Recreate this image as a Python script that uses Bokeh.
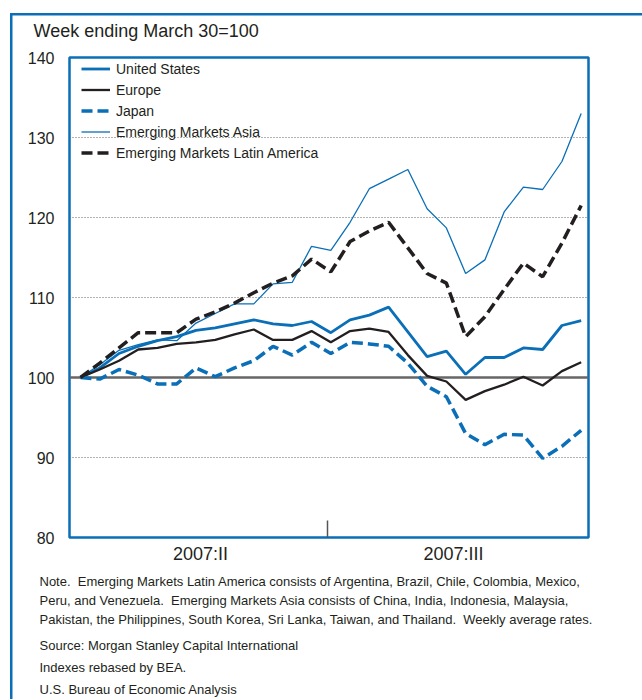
from bokeh.plotting import figure
from bokeh.models import (Range1d, FixedTicker, Span, Title, Legend, LegendItem)
from bokeh.embed import file_html
from bokeh.resources import INLINE

# ---- data (week index 0 = week ending March 30, 2007 = 100) ----
weeks = list(range(27))
united_states = [100, 101.2, 103.0, 103.9, 104.6, 105.1, 105.9, 106.2, 106.7, 107.2, 106.7, 106.5,
                 107.0, 105.6, 107.2, 107.8, 108.8, 105.7, 102.6, 103.3, 100.4, 102.5, 102.5, 103.7,
                 103.5, 106.5, 107.1]
europe = [100, 101.0, 102.1, 103.5, 103.7, 104.2, 104.4, 104.7, 105.4, 106.0, 104.7, 104.7,
          105.8, 104.4, 105.8, 106.1, 105.7, 102.8, 100.2, 99.5, 97.2, 98.3, 99.1, 100.1,
          99.0, 100.8, 101.9]
japan = [100, 99.8, 101.0, 100.3, 99.2, 99.2, 101.2, 100.1, 101.2, 102.1, 103.9, 102.8,
         104.4, 103.0, 104.4, 104.2, 103.9, 101.8, 98.9, 97.6, 93.0, 91.6, 92.9, 92.8,
         89.9, 91.4, 93.4]
em_asia = [100, 101.6, 103.4, 104.1, 104.7, 104.6, 106.8, 108.0, 109.2, 109.2, 111.7, 111.9,
           116.4, 115.9, 119.4, 123.6, 124.8, 126.0, 121.1, 118.7, 113.0, 114.7, 120.7, 123.8,
           123.5, 127.0, 133.0]
em_latam = [100, 101.8, 103.7, 105.6, 105.6, 105.6, 107.3, 108.2, 109.3, 110.6, 111.8, 112.7,
            114.8, 113.2, 117.0, 118.3, 119.4, 116.2, 113.0, 111.8, 105.1, 107.6, 111.0, 114.3,
            112.6, 116.8, 121.5]

series_names = ["United States", "Europe", "Japan", "Emerging Markets Asia",
                "Emerging Markets Latin America"]
y_ticks = [80, 90, 100, 110, 120, 130, 140]
grid_ticks = [90, 110, 120, 130]
quarter_labels = {6.23: "2007:II", 19.37: "2007:III"}
quarter_break = 12.82
title_text = "Week ending March 30=100"
SP2 = ".\u00a0 "
note_lines = [
    "Note" + SP2 + "Emerging Markets Latin America consists of Argentina, Brazil, Chile, Colombia, Mexico,",
    "Peru, and Venezuela" + SP2 + "Emerging Markets Asia consists of China, India, Indonesia, Malaysia,",
    "Pakistan, the Philippines, South Korea, Sri Lanka, Taiwan, and Thailand" + SP2 + "Weekly average rates.",
    "Source: Morgan Stanley Capital International",
    "Indexes rebased by BEA.",
    "U.S. Bureau of Economic Analysis",
]

BLUE = "#0a6fb7"
BLACK = "#231f20"
TEXT = "#231f20"
SANS = "Liberation Sans"

p = figure(frame_width=519, frame_height=480,
           min_border_left=69, min_border_top=57, min_border_right=54, min_border_bottom=10,
           x_range=Range1d(-0.57, 26.38), y_range=Range1d(80, 140),
           output_backend="svg", toolbar_location=None)
# outer box lines of the page panel (top and left), painted behind a transparent canvas
p.styles = {
    "background-image": "linear-gradient(%s, %s), linear-gradient(%s, %s)" % (BLUE, BLUE, BLUE, BLUE),
    "background-repeat": "no-repeat",
    "background-size": "640px 2.5px, 2.5px 700px",
    "background-position": "10px 13px, 10px 13px",
}
p.background_fill_color = "white"
p.border_fill_color = None
p.outline_line_color = BLUE
p.outline_line_width = 2.5

# title
p.title.text = title_text
p.title.text_font = SANS
p.title.text_font_size = "18px"
p.title.text_font_style = "normal"
p.title.text_color = TEXT
p.title.align = "left"
p.title.offset = -36
p.title.standoff = 34

# axes
p.yaxis.ticker = FixedTicker(ticks=y_ticks)
p.yaxis.axis_line_color = None
p.yaxis.major_tick_line_color = None
p.yaxis.minor_tick_line_color = None
p.yaxis.major_tick_out = 0
p.yaxis.major_label_text_font = SANS
p.yaxis.major_label_text_font_size = "16px"
p.yaxis.major_label_text_color = TEXT
p.yaxis.major_label_standoff = 15

p.xaxis.ticker = FixedTicker(ticks=list(quarter_labels.keys()), minor_ticks=[quarter_break])
p.xaxis.major_label_overrides = quarter_labels
p.xaxis.axis_line_color = None
p.xaxis.major_tick_line_color = None
p.xaxis.major_tick_out = 0
p.xaxis.major_tick_in = 0
p.xaxis.minor_tick_in = 17
p.xaxis.minor_tick_out = 0
p.xaxis.minor_tick_line_color = "#555555"
p.xaxis.minor_tick_line_width = 1.5
p.xaxis.major_label_text_font = SANS
p.xaxis.major_label_text_font_size = "18px"
p.xaxis.major_label_text_color = TEXT
p.xaxis.major_label_standoff = 6

p.xgrid.grid_line_color = None
p.ygrid.ticker = FixedTicker(ticks=grid_ticks)
p.ygrid.grid_line_color = "#666666"
p.ygrid.grid_line_dash = "1 2"
p.ygrid.grid_line_width = 1

p.add_layout(Span(location=100, dimension="width", line_color="#666666",
                  line_width=2.5, level="underlay"))

r_us = p.line(weeks, united_states, line_color=BLUE, line_width=2.8)
r_eu = p.line(weeks, europe, line_color=BLACK, line_width=2.3)
r_jp = p.line(weeks, japan, line_color=BLUE, line_width=3.5, line_dash="11 5")
r_as = p.line(weeks, em_asia, line_color=BLUE, line_width=1.3)
r_la = p.line(weeks, em_latam, line_color=BLACK, line_width=3.5, line_dash="11 5")

legend = Legend(items=[LegendItem(label=n, renderers=[r])
                       for n, r in zip(series_names, [r_us, r_eu, r_jp, r_as, r_la])],
                location=(12, 374), orientation="vertical",
                glyph_width=29, glyph_height=21, label_height=21, spacing=0, padding=0,
                margin=0, label_standoff=6,
                label_text_font=SANS, label_text_font_size="14px",
                label_text_color=TEXT, background_fill_alpha=0, border_line_color=None)
p.add_layout(legend)


def spacer(gap):
    return Title(text=" ", text_font_size="1px", standoff=max(gap - 3.1, 0))


# notes under the chart (stacked rows below the x axis)
note_standoffs = [1.5, 1.5, 1.5, 4.5, 4.5, 4.5]
p.add_layout(spacer(3.75), "below")
for i, line in enumerate(note_lines):
    if i == 3:
        p.add_layout(spacer(5.5), "below")
    p.add_layout(Title(text=line, align="left", offset=-30, text_font=SANS,
                       text_font_size="13px", text_font_style="normal", text_color=TEXT,
                       standoff=note_standoffs[i]), "below")

open("out.html", "w").write(file_html(p, INLINE))
